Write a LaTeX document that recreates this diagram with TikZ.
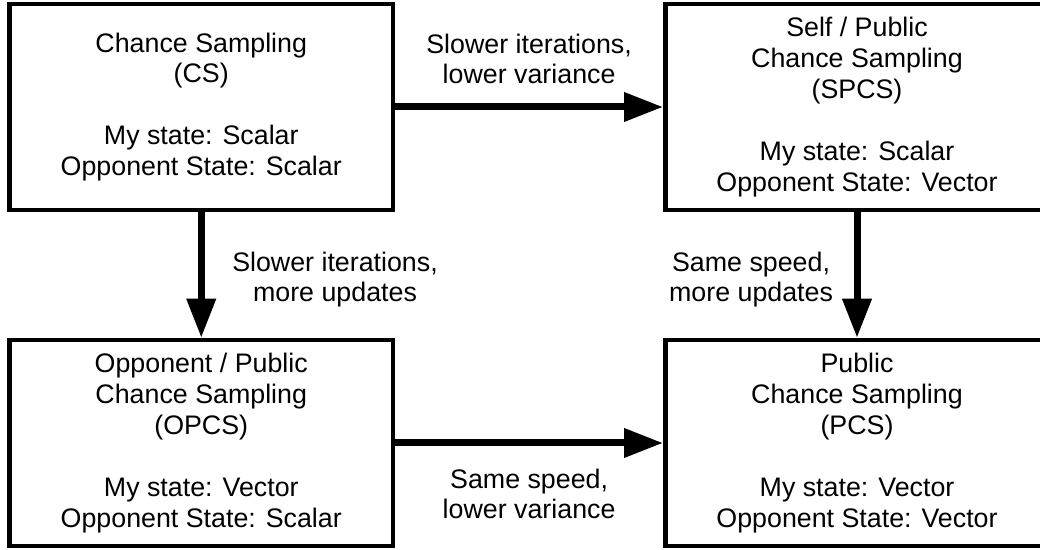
\documentclass[tikz,border=0pt]{standalone}
\usepackage{fontspec}
\setmainfont{Liberation Sans}
\usepackage{tikz}
\usetikzlibrary{arrows.meta,positioning}
\tikzstyle{block} = [rectangle, sharp corners, draw, line width=0.09cm,
                     align=center, inner sep=0pt,
                     minimum width=7.67cm, minimum height=4.12cm,
                     font=\fontsize{15.25}{17.6}\selectfont]
\tikzstyle{flow} = [line width=0.14cm,
                    -{Triangle[length=0.78cm,width=0.56cm]}]
\tikzstyle{note} = [align=center, inner sep=0pt,
                    font=\fontsize{15.25}{17}\selectfont]

\begin{document}
\begin{tikzpicture}
\useasboundingbox (0,0) rectangle (20.8,11);

%Sampling schemes
\node[block] at (4.025,8.86) (cs){Chance Sampling\\(CS)\\[17.6pt]My state: Scalar\\Opponent State: Scalar};
\node[block] at (17.14,8.86) (spcs){Self / Public\\Chance Sampling\\(SPCS)\\[17.6pt]My state: Scalar\\Opponent State: Vector};
\node[block] at (4.025,2.14) (opcs){Opponent / Public\\Chance Sampling\\(OPCS)\\[17.6pt]My state: Vector\\Opponent State: Scalar};
\node[block] at (17.14,2.14) (pcs){Public\\Chance Sampling\\(PCS)\\[17.6pt]My state: Vector\\Opponent State: Vector};

%Trade-offs
\draw[flow] (cs) -- node[note, above=0.4cm]{Slower iterations,\\lower variance} (spcs);
\draw[flow] (cs) -- node[note, right=0.55cm, yshift=-0.1cm]{Slower iterations,\\more updates} (opcs);
\draw[flow] (spcs) -- node[note, left=0.41cm, yshift=-0.1cm]{Same speed,\\more updates} (pcs);
\draw[flow] (opcs) -- node[note, below=0.45cm]{Same speed,\\lower variance} (pcs);
\end{tikzpicture}
\end{document}
